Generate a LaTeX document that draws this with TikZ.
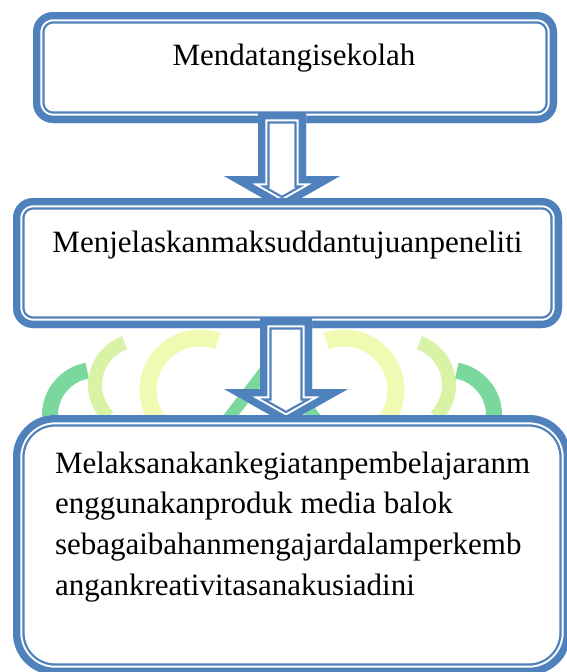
\documentclass[tikz,border=0pt]{standalone}
\usepackage{fontspec}
\setmainfont{Liberation Serif}
\usetikzlibrary{calc}
\definecolor{bl}{RGB}{79,129,189}
\definecolor{wmy}{RGB}{240,250,178}
\definecolor{wmg}{RGB}{216,243,166}
\definecolor{wmd}{RGB}{122,216,156}
\tikzset{
  dbox/.style={rectangle, rounded corners=#1, inner sep=0pt, outer sep=0pt, fill=white,
    path picture={
      \draw[bl, line width=23.2pt, rounded corners=#1] (path picture bounding box.south west) rectangle (path picture bounding box.north east);
      \draw[white, line width=18.6pt, rounded corners=#1] (path picture bounding box.south west) rectangle (path picture bounding box.north east);
      \draw[bl, line width=14.6pt, rounded corners=#1] (path picture bounding box.south west) rectangle (path picture bounding box.north east);}},
  txt/.style={inner sep=0pt, outer sep=0pt, font=\fontsize{31}{40.7}\selectfont},
  wmark/.style={line width=#1, line cap=butt}
}
% #1 start coordinate, #2 shaft half width, #3 head half width, #4 head start offset, #5 tip offset
\newcommand\blockarrow[5]{%
  \begin{scope}[shift={(#1)}]
    \def\arrowpath{(-#2,0) -- (#2,0) -- (#2,#4) -- (#3,#4) -- (0,#5) -- (-#3,#4) -- (-#2,#4) -- cycle}
    \begin{scope}
      \clip \arrowpath;
      \fill[white] \arrowpath;
      \draw[bl, line width=23.2pt, miter limit=20] \arrowpath;
      \draw[white, line width=18.6pt, miter limit=20] \arrowpath;
      \draw[bl, line width=14.6pt, miter limit=20] \arrowpath;
    \end{scope}
  \end{scope}}
\begin{document}
\begin{tikzpicture}[x=1pt,y=-1pt]
\useasboundingbox (0,0) rectangle (567,672);
\clip (0,0) rectangle (567,672);
% faint watermark
\draw[wmd, wmark=16pt] (95,415) ++(-100:45) arc[start angle=-100, end angle=-200, radius=45];
\draw[wmg, wmark=14pt] (140,385) ++(-110:45) arc[start angle=-110, end angle=-225, radius=45];
\draw[wmy, wmark=17pt] (200,390) ++(-70:52) arc[start angle=-70, end angle=-225, radius=52];
\draw[wmy, wmark=17pt] (344,390) ++(-110:52) arc[start angle=-110, end angle=45, radius=52];
\draw[wmg, wmark=14pt] (404,385) ++(-70:45) arc[start angle=-70, end angle=45, radius=45];
\draw[wmd, wmark=16pt] (449,415) ++(-80:45) arc[start angle=-80, end angle=20, radius=45];
\draw[wmd, line width=12pt] (225,423) -- (272,362) -- (319,423);
% boxes and arrows
\node[dbox=20pt, minimum width=524pt, minimum height=111pt] (b1) at (295,67.5) {};
\node[txt, anchor=base] (t1) at (294,65) {Mendatangisekolah};
\coordinate (a1) at ($(b1.south)+(-13,-11)$);
\blockarrow{a1}{24}{58}{64}{97}
\node[dbox=20pt, minimum width=549pt, minimum height=130pt] (b2) at (287.5,263) {};
\node[txt, anchor=base] (t2) at (287.5,252) {Menjelaskanmaksuddantujuanpeneliti};
\coordinate (a2) at ($(b2.south)+(-1.5,-10)$);
\blockarrow{a2}{26}{62}{71}{106}
\node[dbox=42pt, minimum width=558pt, minimum height=260pt] (b3) at (292,545) {};
\node[txt, anchor=base west] (t3) at (55,473) {\vtop{\baselineskip=40.7pt
  \hbox{Melaksanakankegiatanpembelajaranm}
  \hbox{enggunakanproduk media balok}
  \hbox{sebagaibahanmengajardalamperkemb}
  \hbox{angankreativitasanakusiadini}}};
\end{tikzpicture}
\end{document}
